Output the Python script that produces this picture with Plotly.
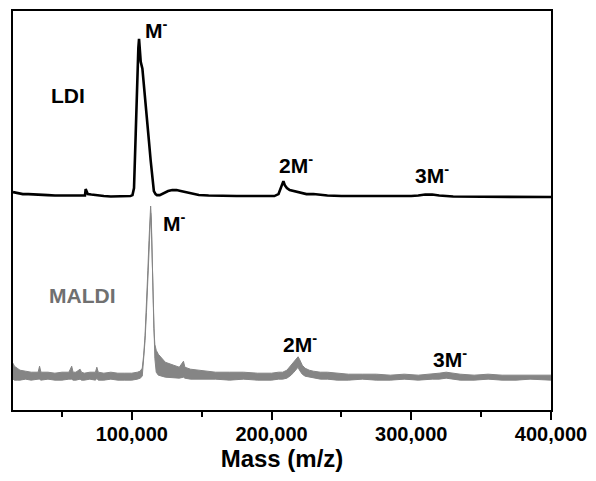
import plotly.graph_objects as go

# ---------------- data (mass in m/z, intensity in arbitrary units above baseline) -------------
ldi_mass_k = [15, 18, 22, 26, 30, 35, 40, 45, 50, 55, 60, 65, 66.5, 67, 67.7, 68.5, 71, 74, 76,
              80, 85, 90, 95, 99, 100.5, 101.6, 102.8, 104.0, 104.7, 105.2, 105.8, 106.4, 107.6,
              108.8, 110.0, 111.2, 112.3, 113.5, 114.6, 115.8, 117, 118, 120, 123, 126, 129, 132,
              135, 138, 141, 144, 148, 155, 165, 175, 185, 195, 202, 205, 206.5, 207.5, 208.5,
              209.5, 211, 213, 216, 220, 225, 230, 235, 240, 250, 260, 270, 280, 290, 300, 305,
              310, 315, 320, 330, 340, 350, 360, 370, 380, 390, 400]
ldi_intensity = [5, 4, 3, 3, 2.5, 2, 2, 1.5, 1.5, 1, 1, 1, 1.5, 8, 5, 3, 2.5, 2, 1,
                 1, 0.5, 0.5, 0.5, 1, 2, 9, 63, 129, 150, 159, 150, 136, 129,
                 112, 96, 76, 56, 37, 19, 6, 3, 2, 2, 4, 6, 7, 7,
                 6, 5, 4, 3, 2, 1.5, 1, 1, 1, 1, 1, 3, 8, 13, 16,
                 12, 9, 7, 6, 4, 3, 3, 2, 1.5, 1, 1, 0.5, 0.5, 0.5, 1, 1.5,
                 2.5, 2.5, 1.5, 0.5, 0.5, 0.5, 0.5, 0.5, 0, 0, 0]

maldi_mass_k = [15, 16, 18, 20, 24, 28, 33, 34, 35, 40, 45, 50, 55, 57, 58, 60, 63, 64, 66, 70,
                74, 75, 76, 80, 85, 90, 95, 100, 104, 106, 107.5, 108.5, 109.5, 110.5, 111.5,
                112.3, 113.0, 113.5, 114.0, 114.6, 115.2, 115.8, 116.5, 117.5, 119, 124, 130,
                134, 137, 138, 142, 148, 160, 170, 180, 190, 200, 205, 208, 211, 214, 216, 218,
                219, 220, 222, 224, 227, 230, 235, 240, 247, 255, 265, 275, 285, 295, 305, 315,
                320, 325, 330, 335, 345, 355, 365, 375, 385, 395, 400]
maldi_upper = [17, 14, 12, 10, 9, 8, 8, 14, 8, 8, 7, 8, 8, 14, 8, 8, 11, 8, 7, 8,
               8, 13, 8, 7, 8, 7, 7, 7, 8, 9, 12, 25, 45, 73, 110,
               140, 165, 175, 162, 123, 85, 52, 36, 30, 26, 18, 15,
               13, 19, 13, 11, 10, 8, 8, 8, 7, 7, 8, 8, 10, 15, 19, 22,
               23.5, 21, 15, 12, 10, 9, 8, 8, 7, 6, 6, 6, 5, 6, 5, 6,
               7, 8, 7, 6, 5, 6, 5, 5, 5, 5, 5]
maldi_lower = [1, 0, 0, 0, 1, 0, 1, 1, 0, 1, 0, 0, 1, 1, 0, 0, 1, 0, 0, 1,
               0, 2, 0, 0, 1, 0, 0, 0, 1, 2, 4, 20, 40, 68, 104,
               134, 158, 168, 155, 117, 80, 46, 22, 8, 5, 3, 2,
               2, 3, 2, 1, 1, 1, 0, 1, 0, 0, 1, 1, 2, 5, 8, 11,
               13, 10, 6, 4, 3, 2, 1, 1, 0, 0, 1, 0, 0, 1, 0, 1,
               1, 2, 1, 0, 0, 1, 0, 0, 1, 0, 0]

x_tick_values = [100000, 200000, 300000, 400000]
x_tick_labels = ["100,000", "200,000", "300,000", "400,000"]

# ---------------- layout constants -------------
LDI_OFFSET = 214
MALDI_OFFSET = 30
FONT = "Liberation Sans, Arial, sans-serif"
GRAY = "#858585"

ldi_mass = [m * 1000 for m in ldi_mass_k]
maldi_mass = [m * 1000 for m in maldi_mass_k]

fig = go.Figure()
fig.add_trace(go.Scatter(x=maldi_mass, y=[v + MALDI_OFFSET for v in maldi_lower], mode="lines",
                         line=dict(color=GRAY, width=1), hoverinfo="skip", showlegend=False))
fig.add_trace(go.Scatter(x=maldi_mass, y=[v + MALDI_OFFSET for v in maldi_upper], mode="lines",
                         line=dict(color=GRAY, width=1), fill="tonexty", fillcolor=GRAY,
                         name="MALDI", showlegend=False))
fig.add_trace(go.Scatter(x=ldi_mass, y=[v + LDI_OFFSET for v in ldi_intensity], mode="lines",
                         line=dict(color="black", width=2.6), name="LDI", showlegend=False))

labels = [
    ("M<sup>-</sup>", 108000, 383, "black"),
    ("LDI", 41000, 316, "black"),
    ("2M<sup>-</sup>", 203700, 247, "black"),
    ("3M<sup>-</sup>", 301500, 237, "black"),
    ("M<sup>-</sup>", 120800, 189, "black"),
    ("MALDI", 39000, 115, "#707070"),
    ("2M<sup>-</sup>", 206500, 67, "black"),
    ("3M<sup>-</sup>", 314200, 52, "black"),
]
for text, x, y, color in labels:
    fig.add_annotation(x=x, y=y, xref="x", yref="y", text=f"<b>{text}</b>", showarrow=False,
                       xanchor="left", yanchor="middle",
                       font=dict(family=FONT, size=21, color=color))

fig.update_layout(
    width=596, height=481,
    margin=dict(l=13, r=40, t=9, b=71),
    paper_bgcolor="white", plot_bgcolor="white",
    showlegend=False,
    xaxis=dict(
        range=[15000, 400000],
        tickmode="array", tickvals=x_tick_values, ticktext=x_tick_labels,
        ticks="outside", ticklen=8, tickwidth=1.5, tickcolor="black",
        ticklabelstandoff=-3,
        minor=dict(ticks="outside", ticklen=5, tickwidth=1.5, tickcolor="black",
                   tickmode="array", tickvals=[50000, 150000, 250000, 350000]),
        showline=True, linecolor="black", linewidth=1.5, mirror=True,
        showgrid=False, zeroline=False,
        tickfont=dict(family=FONT, size=20, color="black", weight="bold"),
        title=dict(text="<b>Mass (m/z)</b>", standoff=6,
                   font=dict(family=FONT, size=24, color="black")),
    ),
    yaxis=dict(
        range=[0, 401], showticklabels=False, ticks="",
        showline=True, linecolor="black", linewidth=1.5, mirror=True,
        showgrid=False, zeroline=False,
    ),
)

fig.write_html("out.html")
